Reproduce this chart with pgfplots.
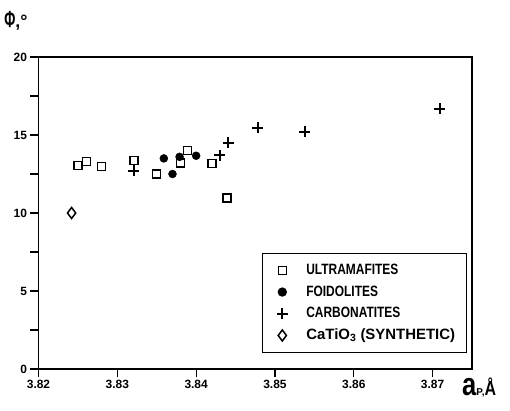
\documentclass[border=0pt]{standalone}
\usepackage{fontspec}
\setmainfont{Liberation Sans}
\newfontfamily\narrow[FakeStretch=0.8]{Liberation Sans}
\usepackage{graphicx}
\usepackage{pgfplots}
\pgfplotsset{compat=1.18}

\pgfplotsset{
  lgd/.style={legend image code/.code={
    \path[draw=none, fill=none] (0bp,0bp) -- (33bp,0bp);
    \draw plot coordinates {(11bp,0bp)};}},
}

\begin{document}
\begin{tikzpicture}
\begin{axis}[
  scale only axis,
  width=433.5bp, height=312bp,
  xmin=3.82, xmax=3.875, ymin=0, ymax=20,
  xtick={3.82,3.83,3.84,3.85,3.86,3.87},
  xticklabels={3.82,3.83,3.84,3.85,3.86,3.87},
  ytick={0,5,10,15,20},
  minor ytick={2.5,7.5,12.5,17.5},
  tick align=outside, xtick pos=bottom, ytick pos=left,
  major tick length=8bp, minor tick length=8bp,
  every tick/.style={line width=1.2bp, black},
  axis line style={line width=1.4bp},
  ticklabel style={font=\bfseries\fontsize{12}{14}\selectfont},
  /pgf/number format/assume math mode=true,
  clip=false,
  legend style={at={(0.988,0.051)}, anchor=south east, draw=black,
    line width=1.3bp, font=\narrow\bfseries\fontsize{15}{17}\selectfont,
    inner xsep=9bp, inner ysep=8bp, row sep=3.7bp,
    nodes={inner sep=2bp, text height=11bp, text depth=3bp},
    row 1/.style={nodes={text height=17bp}}},
  legend cell align=left,
]
% ultramafites
\addplot[only marks, mark=square, mark size=4bp, line width=1.3bp, lgd] coordinates {
  (3.8250,13.05) (3.8261,13.3) (3.8280,12.98) (3.8321,13.35) (3.8350,12.5)
  (3.8380,13.2) (3.8389,14.0) (3.8420,13.16) (3.8439,10.96)
};
\addlegendentry{ULTRAMAFITES}
% foidolites
\addplot[only marks, mark=*, mark size=4bp, fill=black, lgd] coordinates {
  (3.8359,13.5) (3.8370,12.5) (3.8379,13.6) (3.8400,13.67)
};
\addlegendentry{FOIDOLITES}
% carbonatites
\addplot[only marks, mark=+, mark size=5.5bp, line width=2bp, lgd] coordinates {
  (3.8321,12.7) (3.8430,13.7) (3.8441,14.5) (3.8478,15.45) (3.8538,15.2) (3.8709,16.67)
};
\addlegendentry{CARBONATITES}
% synthetic CaTiO3
\addplot[only marks, mark=diamond, mark size=5.5bp, line width=1.5bp, lgd] coordinates {
  (3.8242,10.0)
};
\addlegendentry{\rmfamily\bfseries\fontsize{15}{17}\selectfont CaTiO\textsubscript{3} (SYNTHETIC)}
\end{axis}
\node[font=\bfseries\fontsize{18}{18}\selectfont, inner sep=0pt] at ([shift={(-22.5bp,36bp)}]current axis.north west)
  {\scalebox{0.75}[1.3]{Φ},°};
\node[anchor=base west, inner sep=0pt] at ([shift={(-10bp,-26bp)}]current axis.south east)
  {{\narrow\bfseries\fontsize{32}{32}\selectfont a}{\bfseries\fontsize{10}{10}\selectfont P,}{\narrow\bfseries\fontsize{20}{20}\selectfont Å}};
\pgfresetboundingbox
\path ([shift={(-38.5bp,-41bp)}]current axis.south west) rectangle ([shift={(38bp,57bp)}]current axis.north east);
\end{tikzpicture}
\end{document}
